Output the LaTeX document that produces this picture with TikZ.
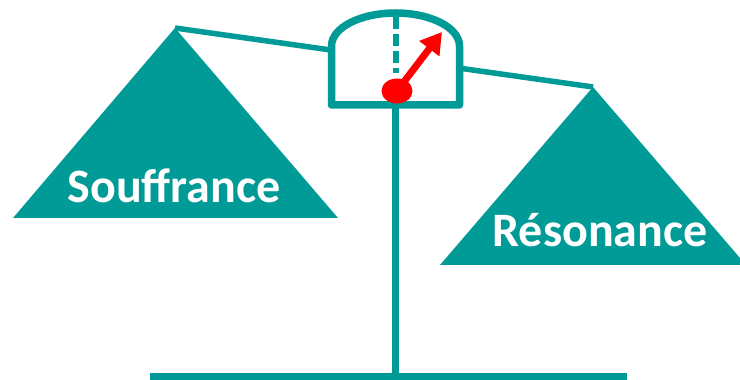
\documentclass[tikz,border=0pt]{standalone}
\usepackage{fontspec}
\setmainfont{Carlito}
\usetikzlibrary{arrows.meta,shapes.geometric}
\definecolor{teal}{HTML}{009A97}
\tikzset{
  bar/.style={draw=teal,line width=#1},
  plate/.style={fill=teal},
  word/.style={text=white,font=\fontsize{48}{52}\selectfont\bfseries,anchor=base,inner sep=0pt}
}
\begin{document}
\begin{tikzpicture}[x=1pt,y=1pt]
      \clip (0,0) rectangle (740,380);
      \coordinate (lapex) at (175,352);
      \coordinate (rapex) at (593,293);
      \coordinate (dialbot) at (395,275);
      \coordinate (foot) at (395,3.5);
      % the two pans
      \fill[plate] (lapex) -- (13,162) -- (338,162) -- cycle;
      \fill[plate] (rapex) -- (440,115) -- (746,115) -- cycle;
      \node[word] (souf) at (174,177) {Souffrance};
      \node[word] (reso) at (600,133) {Résonance};
      % beam, post and base
      \draw[bar=5.5pt] (lapex) -- (rapex);
      \draw[bar=7pt] (dialbot) -- (foot);
      \draw[bar=7pt] (150,3.5) -- (627,3.5);
      % the dial
      \draw[bar=7.5pt,fill=white,line join=round] (331.5,275) -- (331.5,334)
            arc[start angle=180,end angle=0,x radius=64,y radius=33] -- (459.5,275) -- cycle;
      \draw[bar=6pt,dash pattern=on 12pt off 5pt] (396,363) -- (396,307);
      \node[fill=red,ellipse,minimum width=31pt,minimum height=25pt,inner sep=0pt] (ball) at (397,289) {};
      \coordinate (tip) at (442,348);
      \draw[red,line width=7pt,-{Triangle[length=21pt,width=24pt]}] (ball.center) -- (tip);
\end{tikzpicture}
\end{document}
